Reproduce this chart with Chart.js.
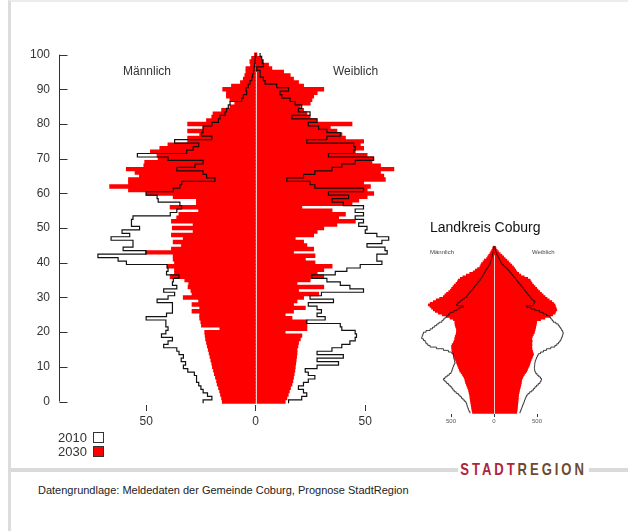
<!DOCTYPE html>
<html lang="de">
<head>
<meta charset="UTF-8">
<title>Bevölkerungspyramide Coburg 2010 / 2030</title>
<script src="https://cdn.jsdelivr.net/npm/chart.js@4/dist/chart.umd.min.js"></script>
<style>
  body { margin: 0; width: 628px; height: 531px; background: #fff; position: relative; overflow: hidden;
         font-family: "Liberation Sans", Arial, sans-serif; color: #333; }
  #frame { position: absolute; left: 8px; top: 0; width: 640px; height: 540px;
           border-left: 3px solid #dcdcdc; border-top: 2px solid #ececec; }
  #main { position: absolute; left: 0; top: 0; }
  #inset { position: absolute; left: 410px; top: 236px; }
  .lbl { position: absolute; white-space: nowrap; }
  .box { position: absolute; width: 9px; height: 9px; border: 1px solid #333; }
  #rule { position: absolute; left: 11px; top: 468px; width: 617px; height: 4px; background: #dadada; }
  #brand { position: absolute; left: 458px; top: 460px; background: #fff; padding: 0 3px;
           font-size: 17px; font-weight: bold; letter-spacing: 3.8px; transform: scaleX(0.77);
           transform-origin: left center; }
</style>
</head>
<body>
<div id="frame"></div>
<canvas id="main" width="460" height="440"></canvas>
<canvas id="inset" width="170" height="195"></canvas>

<div class="lbl" style="left:123px;top:64px;font-size:12px">Männlich</div>
<div class="lbl" style="left:333px;top:64px;font-size:12px">Weiblich</div>

<div class="lbl" style="left:58px;top:430px;font-size:13px">2010</div>
<div class="box" style="left:93px;top:432px;background:#fff"></div>
<div class="lbl" style="left:58px;top:444px;font-size:13px">2030</div>
<div class="box" style="left:93px;top:446px;background:#ff0000"></div>

<div class="lbl" style="left:430px;top:219px;font-size:14px;color:#111">Landkreis Coburg</div>
<div class="lbl" style="left:430px;top:249px;font-size:6px;color:#444">Männlich</div>
<div class="lbl" style="left:532px;top:249px;font-size:6px;color:#444">Weiblich</div>

<div id="rule"></div>
<div id="brand"><span style="color:#b0243a">STADT</span><span style="color:#6e4a30">REGION</span></div>
<div class="lbl" style="left:38px;top:484px;font-size:11px;color:#222">Datengrundlage: Meldedaten der Gemeinde Coburg, Prognose StadtRegion</div>

<script>
  // age classes 0..100
  const ages = Array.from({ length: 101 }, (_, i) => i);

  // Stadt Coburg, persons per age year
  const male2030 = [15.2,15.5,16.0,16.4,16.9,17.5,17.8,18.3,18.8,19.2,
    19.7,20.0,20.4,20.8,21.2,21.6,22.0,22.4,22.8,23.0,
    23.2,16.3,24.7,25.0,25.5,25.5,29.0,25.5,29.0,26.0,
    33.0,29.0,29.5,30.8,30.5,32.3,39.0,37.0,37.0,40.4,
    37.0,37.6,37.6,50.3,38.4,33.8,37.6,33.0,38.4,28.5,
    38.0,28.5,38.4,36.0,35.0,26.0,39.0,27.0,27.0,37.6,
    50.0,58.0,66.6,58.0,58.0,53.0,55.0,59.0,51.0,50.6,
    44.5,45.0,48.0,43.7,40.0,31.0,31.0,25.5,31.0,24.0,
    31.0,22.4,20.0,19.4,15.5,11.7,9.5,11.7,13.3,13.3,
    15.0,11.0,6.9,5.6,4.9,4.4,4.4,2.3,2.6,1.8,
    0.5];
  const male2010 = [24,20,22,24,25,26,27,27,28,31,
    33,32,34,33,35,36,42,40,38,43,
    41,40,41,41,50,40.7,38,38,38,45,
    40,37,42,36,38,37.6,35,40.7,40,40.4,
    59,62.8,72,50,60.5,56,56,66,57.5,61,
    53,56.7,56.7,56,39,36,33.8,34.6,44.5,45,
    50,37.6,34.6,33.8,18.6,22.4,24,36,27.7,24,
    40,54,31.5,28.5,26,37,20,24.7,24,24,
    20,17,16.3,14,13.3,12.5,11.7,6.4,5.6,4.1,
    4.4,3.4,2.6,1.8,1.4,1.0,0.8,0.5,0.3,0.2,
    0];
  const female2030 = [13.4,14.2,14.8,15.3,15.8,16.5,16.9,17.2,17.5,17.8,
    18.0,18.2,18.4,18.6,18.8,18.8,19.2,19.5,20.3,21.0,
    13.4,23.3,23.3,23.3,16.5,13.4,17.2,22.6,17.2,18.8,
    21.8,28.7,19.5,31.0,18.8,24.8,31.0,28.0,31.0,34.8,
    27.0,22.6,27.0,17.2,26.4,23.3,21.8,18.0,26.4,28.0,
    31.0,37.0,45.4,37.8,40.9,34.8,21.0,43.9,47.0,50.8,
    53.8,50.8,52.3,49.2,59.1,58.4,56.9,63.0,56.9,53.0,
    53.8,50.8,45.4,49.2,47.7,49.2,40.9,39.3,37.0,34.0,
    43.9,27.9,24.8,23.3,21.8,20.3,24.8,25.6,26.4,28.0,
    31.0,21.8,19.5,17.2,15.7,12.7,7.3,5.8,3.5,2.7,
    0.5];
  const female2010 = [15,21,23.3,21.8,19.5,21.8,24,27,24,22.6,
    28,37.8,28,40,28,34.8,39.3,43,45.4,46,
    45.4,39.3,38.6,23.3,31.7,28,30,28,24,35.5,
    24.8,30,49.2,43,38.6,32.5,25.6,36.3,41.6,47.7,
    57.6,55.3,55.3,60,59,50.8,57.6,60.7,55.3,50,
    50.8,47,49.2,45.4,49.2,45.4,49.2,40,34.8,42.4,
    33.2,49.2,27,24.8,14.2,21.8,27,34.8,39.3,45.4,
    53.8,33.2,44.7,45.4,44.7,23.3,32.5,38.6,32.5,28.7,
    24,28,16.5,24.8,19.5,21,18,15.7,11.9,11.1,
    15,9.6,4.3,3.5,2,2,0.5,3.5,3,2.7,
    2];

  // Landkreis Coburg
  const lkMale2030 = [248,252,256,258,262,265,268,272,275,277,
    279,283,288,292,298,305,312,320,328,333,
    337,345,356,368,380,395,402,410,418,425,
    433,440,447,455,463,472,478,483,488,490,
    491,485,470,462,455,453,448,440,436,434,
    433,438,445,450,452,453,470,510,550,600,
    646,680,704,725,743,762,740,704,670,630,
    588,570,550,525,505,491,475,460,440,425,
    414,390,360,320,280,240,215,190,162,152,
    143,125,110,85,72,60,46,35,24,15,
    8];
  const lkMale2010 = [279,290,298,305,312,317,325,340,360,378,
    395,415,440,462,478,491,510,530,550,570,
    588,570,545,520,500,491,485,478,472,462,
    453,458,462,468,470,472,490,530,588,670,
    743,770,790,800,820,840,835,828,820,790,
    743,715,690,665,640,607,590,570,550,530,
    510,470,433,400,356,433,420,395,370,345,
    317,305,290,272,255,240,225,210,195,178,
    162,150,138,125,114,104,92,80,68,56,
    46,40,34,28,23,19,14,10,6,3,
    0];
  const lkFemale2030 = [263,265,268,270,272,274,276,277,279,280,
    282,285,289,293,297,302,307,312,316,318,
    321,330,340,352,365,379,388,395,405,412,
    418,425,432,440,448,457,452,446,440,438,
    437,440,436,442,438,437,445,455,465,470,
    476,480,484,488,492,495,540,590,650,680,
    708,715,728,720,712,708,690,670,640,615,
    592,570,550,530,510,495,475,458,440,430,
    418,390,350,310,285,263,250,238,224,205,
    186,168,148,128,110,90,70,50,35,22,
    12];
  const lkFemale2010 = [302,310,318,325,332,340,348,355,362,370,
    379,395,415,440,460,476,495,515,534,545,
    553,540,520,500,485,476,472,470,472,474,
    476,480,488,495,505,515,540,575,611,660,
    708,730,750,766,778,786,795,800,805,798,
    786,775,760,747,720,689,675,660,650,610,
    573,530,476,430,379,457,465,476,450,430,
    418,400,385,370,355,340,325,310,292,278,
    263,248,232,216,200,186,168,150,130,110,
    89,78,68,58,48,39,30,22,16,14,
    12];

  const mainXTicks = [-50, 0, 50];
  const mainYTicks = [0, 10, 20, 30, 40, 50, 60, 70, 80, 90, 100];
  const lkXTicks = [-500, 0, 500];

  const RED = '#ff0000';
  const FONT = '"Liberation Sans", Arial, sans-serif';

  const bars = (vals, sign) => vals.map((v, i) => ({ x: sign * v, y: ages[i] }));
  // outline of the 2010 bars as a staircase
  const steps = (vals, sign) =>
    [{ x: sign * vals[0], y: ages[0] - 0.5 }].concat(vals.map((v, i) => ({ x: sign * v, y: ages[i] + 0.5 })));

  // inward y ticks + axis line, light centre line
  const decor = {
    id: 'decor',
    afterDatasetsDraw(chart, args, opts) {
      const { ctx } = chart;
      const x = chart.scales.x, y = chart.scales.y;
      ctx.save();
      ctx.strokeStyle = 'rgba(255,255,255,0.8)';
      ctx.lineWidth = 1;
      const cx = Math.round(x.getPixelForValue(0)) + 0.5;
      ctx.beginPath();
      ctx.moveTo(cx, y.getPixelForValue(-1));
      ctx.lineTo(cx, y.getPixelForValue(95));
      ctx.stroke();
      if (opts.yAxis) {
        const ax = Math.round(chart.chartArea.left) + 0.5;
        ctx.strokeStyle = '#333';
        ctx.beginPath();
        ctx.moveTo(ax, y.getPixelForValue(0));
        ctx.lineTo(ax, y.getPixelForValue(100));
        mainYTicks.forEach(t => {
          const py = Math.round(y.getPixelForValue(t)) + 0.5;
          ctx.moveTo(ax, py);
          ctx.lineTo(ax + 8, py);
        });
        ctx.stroke();
      }
      ctx.restore();
    }
  };

  function pyramid(canvas, d, o) {
    return new Chart(canvas, {
      type: 'bar',
      data: {
        datasets: [
          { data: bars(d.m30, -1), backgroundColor: RED, order: 1 },
          { data: bars(d.f30, 1), backgroundColor: RED, order: 1 },
          { type: 'line', data: steps(d.m10, -1), borderColor: '#111', borderWidth: o.lw,
            stepped: true, pointRadius: 0, fill: false, order: 0 },
          { type: 'line', data: steps(d.f10, 1), borderColor: '#111', borderWidth: o.lw,
            stepped: true, pointRadius: 0, fill: false, order: 0 }
        ]
      },
      options: {
        indexAxis: 'y',
        responsive: false,
        animation: false,
        events: [],
        datasets: { bar: { barPercentage: 1, categoryPercentage: 1, grouped: false, borderWidth: 0, inflateAmount: 0.5 } },
        layout: { padding: o.pad },
        plugins: { legend: { display: false }, tooltip: { enabled: false }, decor: { yAxis: o.yAxis } },
        scales: {
          x: {
            type: 'linear', min: -o.xmax, max: o.xmax, offset: false,
            afterBuildTicks: s => { s.ticks = o.xTicks.map(v => ({ value: v })); },
            afterFit: s => { s.height = o.xh; },
            grid: { display: true, drawOnChartArea: false, drawTicks: true, tickLength: o.tl, color: '#333' },
            border: { display: false },
            ticks: { callback: v => Math.abs(v), color: o.tc, padding: o.tp, maxRotation: 0,
                     font: { size: o.fs, family: FONT } }
          },
          y: {
            type: 'linear', min: -1, max: 101, offset: false, display: o.yAxis,
            afterBuildTicks: s => { s.ticks = mainYTicks.map(v => ({ value: v })); },
            afterFit: s => { s.width = o.yAxis ? 58.5 : 0; },
            grid: { display: false, drawTicks: false, offset: false },
            border: { display: false },
            ticks: { color: '#333', padding: 8.5, font: { size: 12, family: FONT } }
          }
        }
      },
      plugins: [decor]
    });
  }

  pyramid(document.getElementById('main'),
    { m30: male2030, f30: female2030, m10: male2010, f10: female2010 },
    { xmax: 90, xTicks: mainXTicks, xh: 35, tl: 6, tp: 3, fs: 12, tc: '#333', lw: 1.2, yAxis: true,
      pad: { left: 0, top: 51.2, right: 7.1, bottom: 0 } });

  pyramid(document.getElementById('inset'),
    { m30: lkMale2030, f30: lkFemale2030, m10: lkMale2010, f10: lkFemale2010 },
    { xmax: 900, xTicks: lkXTicks, xh: 16.9, tl: 3, tp: 1, fs: 6, tc: '#555', lw: 0.8, yAxis: false,
      pad: { left: 6.6, top: 9.3, right: 8.6, bottom: 0 } });
</script>
</body>
</html>
